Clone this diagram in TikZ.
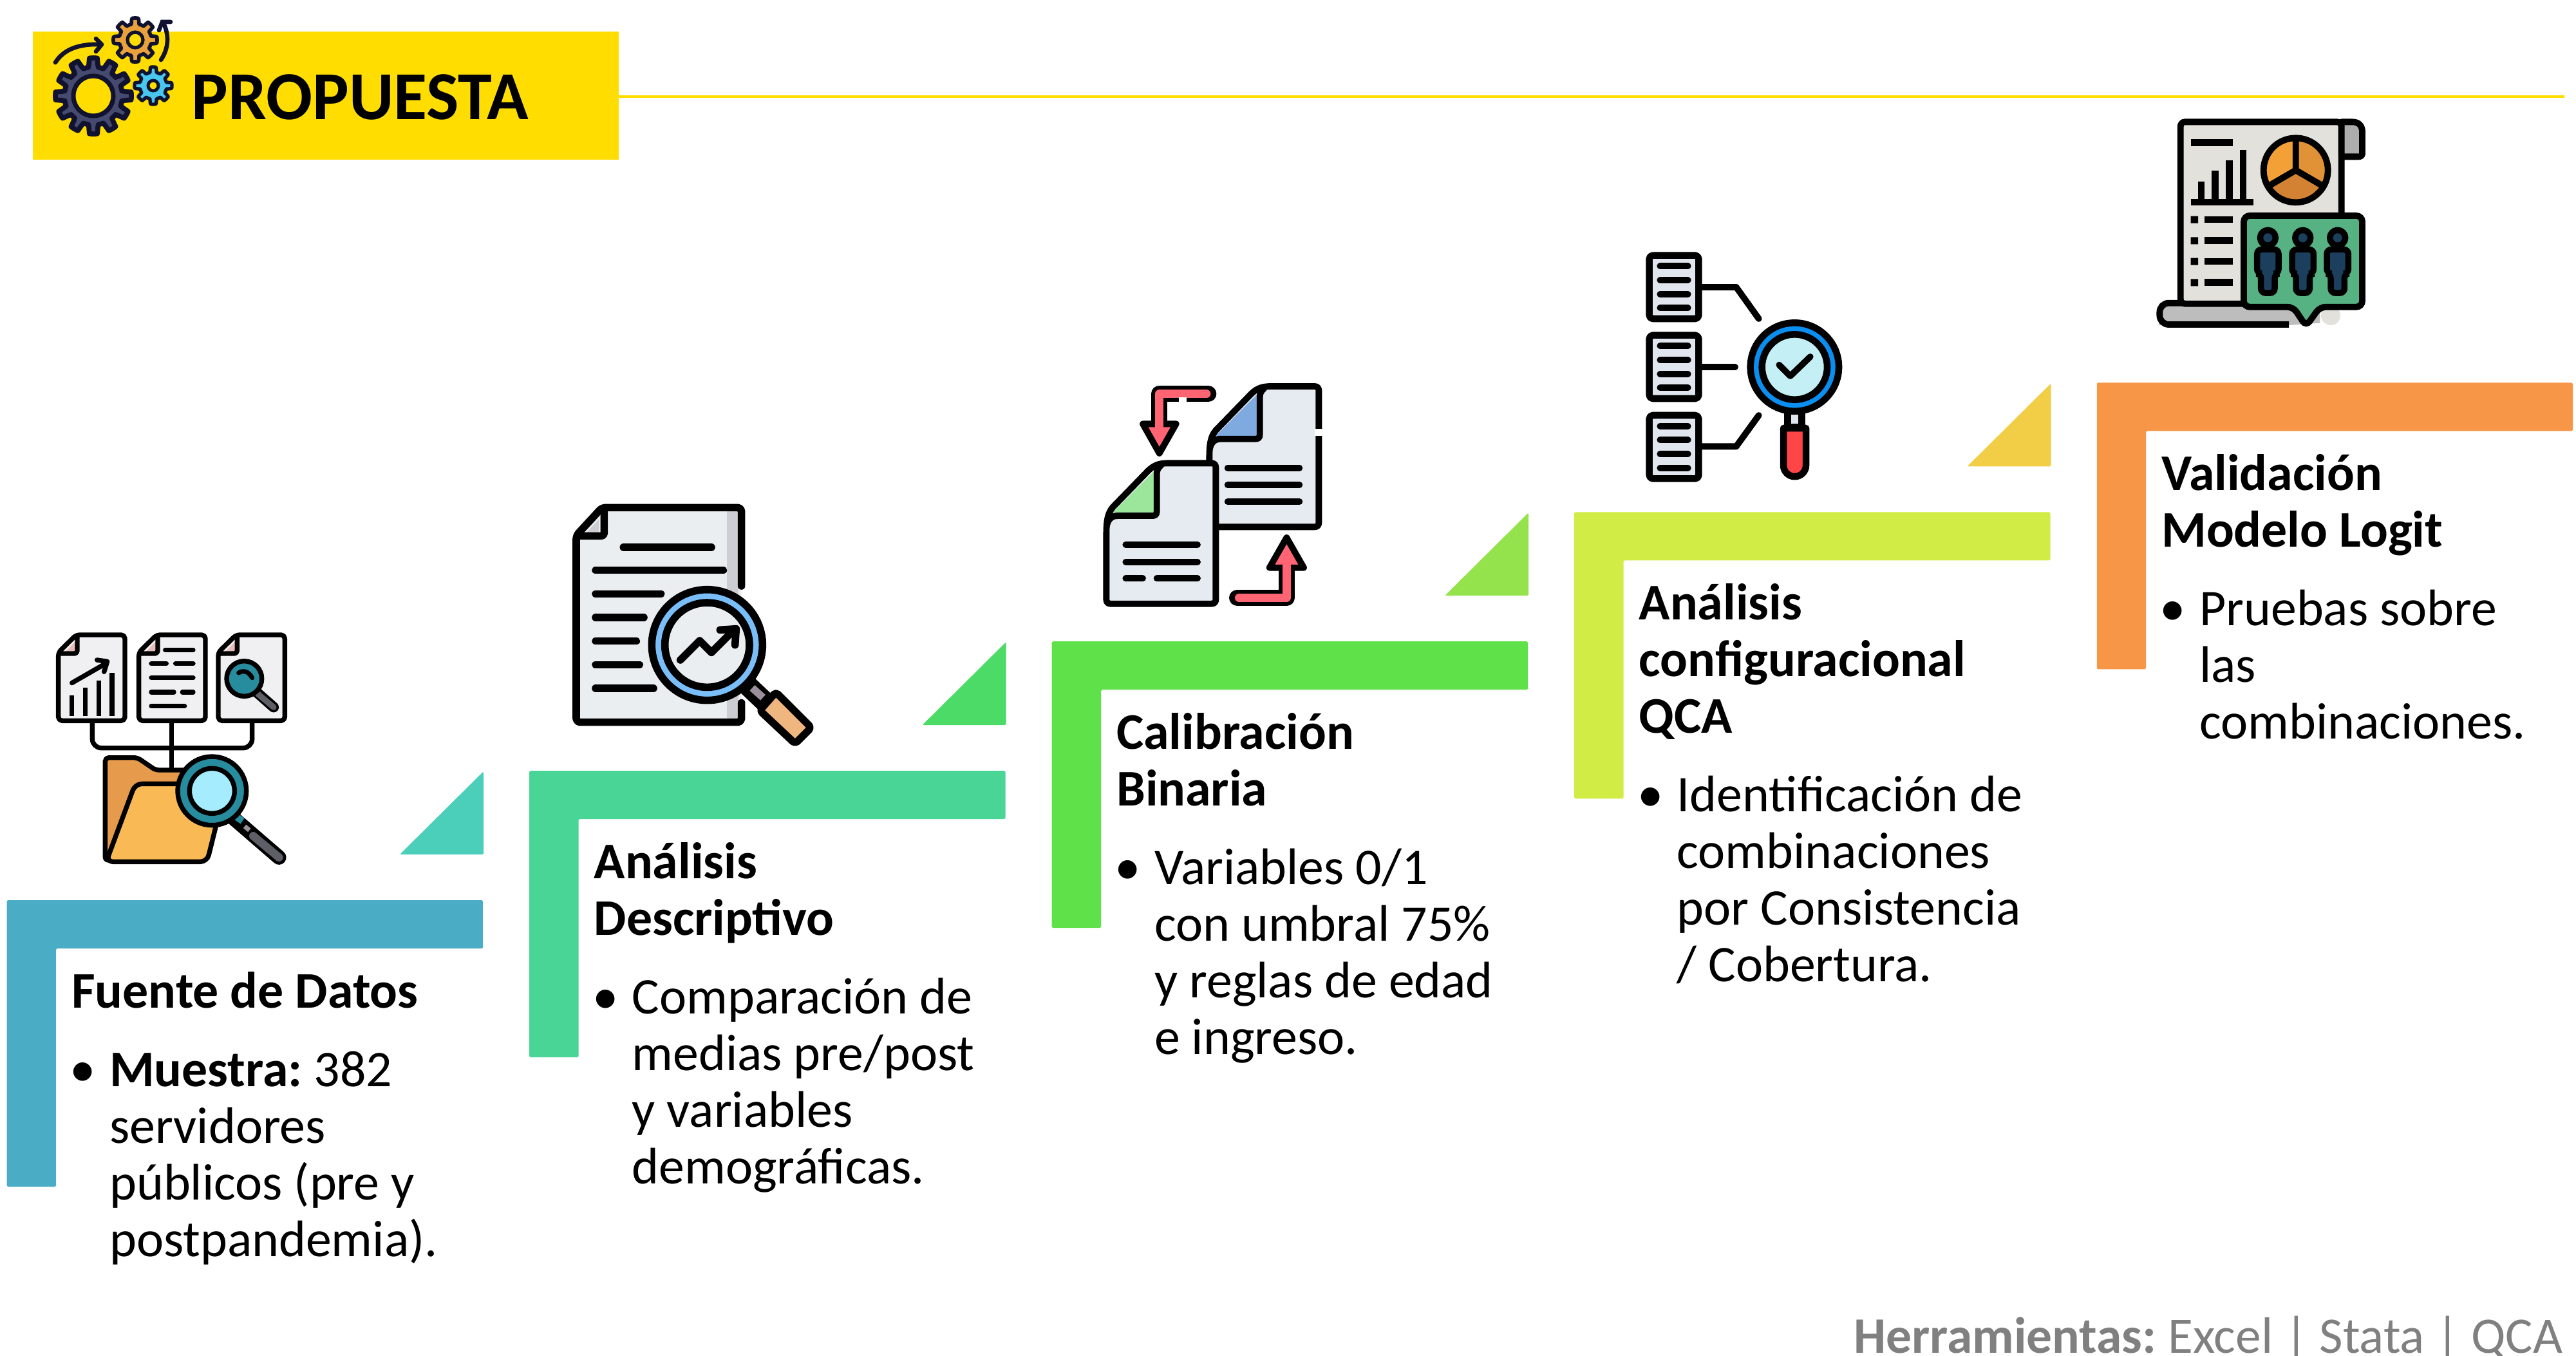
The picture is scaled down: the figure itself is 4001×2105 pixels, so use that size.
\documentclass[tikz,border=0pt]{standalone}
\usepackage{fontspec}
\setmainfont{Carlito}
\frenchspacing
\definecolor{headyellow}{HTML}{FFDD00}
\definecolor{gearink}{HTML}{11122F}
\definecolor{gearC}{HTML}{464A6E}
\definecolor{gearO}{HTML}{E9A23B}
\definecolor{gearB}{HTML}{48C6EE}
\definecolor{brA}{HTML}{4BACC6}
\definecolor{brB}{HTML}{48D596}
\definecolor{brC}{HTML}{5FE14A}
\definecolor{brD}{HTML}{D2EC46}
\definecolor{brE}{HTML}{F79646}
\definecolor{trA}{HTML}{4BCFBA}
\definecolor{trB}{HTML}{4BDB66}
\definecolor{trC}{HTML}{95E34C}
\definecolor{trD}{HTML}{F2CE47}
\definecolor{sheetfill}{HTML}{E6EBF1}
\definecolor{tealm}{HTML}{268C9E}
\definecolor{hgray}{HTML}{5E5E66}
\definecolor{pinkfold}{HTML}{E8BDB8}
\definecolor{paperA}{HTML}{F0F0F3}
\definecolor{folderB}{HTML}{E59B4B}
\definecolor{folderF}{HTML}{F9BA55}
\definecolor{paperB}{HTML}{EBEEF1}
\definecolor{shadeB}{HTML}{CDCED3}
\definecolor{arrowred}{HTML}{FF6473}
\definecolor{navyp}{HTML}{1C3F5E}
\definecolor{paperC}{HTML}{E3E1DC}
\definecolor{bubbleg}{HTML}{57B283}
\definecolor{glassA}{HTML}{A6ECFF}
\definecolor{neckg}{HTML}{9A8F9B}
\definecolor{handleO}{HTML}{F0B67F}
\definecolor{blueR}{HTML}{79BEF9}
\definecolor{foldblue}{HTML}{7FAAE0}
\definecolor{foldgreen}{HTML}{9CE69C}
\definecolor{handleR}{HTML}{FF4545}
\definecolor{blueK}{HTML}{0A8EF0}
\definecolor{glassK}{HTML}{C4EFF4}
\definecolor{tabfill}{HTML}{ADADAD}
\definecolor{baseg}{HTML}{BDBDBD}
\definecolor{pieA}{HTML}{F3A136}
\definecolor{pieB}{HTML}{E29236}
\definecolor{pieC}{HTML}{D38233}
\definecolor{listfill}{HTML}{E1E5EE}
\tikzset{
  x=0.01cm,y=-0.01cm,
  ttl/.style={anchor=base west,inner sep=0pt,text width=8.5cm,align=left,font=\fontsize{22.7}{25.04}\selectfont\bfseries,execute at begin node={\spaceskip=5.13pt\xspaceskip=5.13pt\relax}},
  bodytxt/.style={anchor=base west,inner sep=0pt,text width=8.5cm,align=left,font=\fontsize{22.7}{25.04}\selectfont,execute at begin node={\spaceskip=5.13pt\xspaceskip=5.13pt\relax}},
  bul/.style={anchor=base west,inner sep=0pt,font=\fontsize{23}{25.04}\selectfont},
  icon/.style={scale=0.33333,line cap=round,line join=round},
}
\newcommand{\gearshape}[7]{%
  \draw[gearink,line width=#7,fill=#6,line join=round]
    plot[domain=0:360,samples=181,variable=\t]
    ({#1+(#4+(#3-#4)*max(0,min(1,1.6*cos(#5*\t)+0.5)))*cos(\t-90)},
     {#2+(#4+(#3-#4)*max(0,min(1,1.6*cos(#5*\t)+0.5)))*sin(\t-90)}) -- cycle;
}
\newcommand{\bendsheet}[1]{%
  \fill[sheetfill] (595,745) -- (595,430) .. controls (595,360) and (600,325) .. (625,295) -- (790,125)
    .. controls (820,95) and (850,90) .. (885,90) -- (1085,90) .. controls (1098,90) and (1105,97) .. (1105,110)
    -- (1105,725) .. controls (1105,738) and (1098,745) .. (1085,745) -- cycle;
  \fill[#1] (622,322) -- (830,115) -- (830,322) -- cycle;
  \draw[line width=2.8pt] (595,725) -- (595,430) .. controls (595,360) and (600,325) .. (625,295) -- (790,125)
    .. controls (820,95) and (850,90) .. (885,90) -- (1085,90) .. controls (1098,90) and (1105,97) .. (1105,110)
    -- (1105,725) .. controls (1105,738) and (1098,745) .. (1085,745) -- (615,745) .. controls (602,745) and (595,738) .. (595,725);
  \draw[line width=2.8pt] (850,100) .. controls (835,112) and (830,125) .. (830,140) -- (830,315)
    .. controls (830,330) and (822,335) .. (810,335) -- (650,335) .. controls (625,335) and (605,345) .. (597,380);
}
\newcommand{\smalldoc}{%
  \draw[line width=2.1pt,fill=paperA,rounded corners=1.6pt] (122,190) -- (205,108) -- (432,108) -- (432,508) -- (122,508) -- cycle;
  \fill[pinkfold] (200,140) -- (200,185) -- (156,185) -- cycle;
  \draw[line width=2.1pt,rounded corners=1.2pt] (210,112) -- (210,195) -- (125,195);
}
\newcommand{\listdoc}[1]{%
  \draw[line width=3pt,fill=listfill,rounded corners=1.5pt] (125,#1) rectangle (355,{#1+295});
  \foreach \dd in {50,115,180,245}{\draw[line width=2.8pt] (175,{#1+\dd}) -- (305,{#1+\dd});}
}
\newcommand{\person}[1]{%
  \begin{scope}[shift={(#1,0)}]
    \draw[line width=2.7pt,fill=navyp] (0,628) circle[radius=36];
    \draw[line width=2.7pt,fill=navyp,rounded corners=2pt,line join=miter] (-50,795) -- (-50,682) -- (50,682) -- (50,795) -- (32,795) -- (32,885) -- (-32,885) -- (-32,795) -- cycle;
  \end{scope}
}
\begin{document}
\begin{tikzpicture}
\useasboundingbox (0,0) rectangle (4001,2105);
\fill[white] (0,0) rectangle (4001,2105);
% header
\fill[headyellow] (51,48.7) rectangle (961,248);
\draw[headyellow,line width=1.3pt] (961,150) -- (3983,150);
\node[anchor=base west,inner sep=0pt,font=\fontsize{30.3}{31}\selectfont\bfseries] (headtitle) at (297,185) {PROPUESTA};
\gearshape{145}{149}{59}{45}{12}{gearC}{2.2pt}
\draw[gearink,line width=2pt,fill=headyellow] (145,149) circle[radius=31];
\gearshape{210}{62}{34}{25}{8}{gearO}{1.6pt}
\draw[gearink,line width=1.5pt,fill=headyellow] (210,62) circle[radius=12];
\gearshape{238}{133}{29}{21}{8}{gearB}{1.5pt}
\draw[gearink,line width=1.4pt,fill=headyellow] (238,133) circle[radius=8];
\draw[gearink,line width=1.9pt,line cap=round] (86,97) .. controls (100,75) and (125,68) .. (156,69);
\draw[gearink,line width=1.9pt,line cap=round,line join=round] (149,60) -- (158,69) -- (149,80);
\draw[gearink,line width=1.9pt,line cap=round] (250,93) .. controls (262,75) and (263,55) .. (254,36);
\draw[gearink,line width=1.9pt,line cap=round,line join=miter] (247,47) -- (252,34) -- (265,34);
% brackets and triangles
\foreach \k/\col in {0/brA,1/brB,2/brC,3/brD,4/brE}{
  \fill[\col,rounded corners=0.5pt] ({10.7+811.5*\k},{1398-200.9*\k}) -- ({750+811.5*\k},{1398-200.9*\k}) -- ({750+811.5*\k},{1473-200.9*\k}) -- ({87+811.5*\k},{1473-200.9*\k}) -- ({87+811.5*\k},{1843-200.9*\k}) -- ({10.7+811.5*\k},{1843-200.9*\k}) -- cycle;
}
\foreach \k/\col in {0/trA,1/trB,2/trC,3/trD}{
  \fill[\col,rounded corners=0.5pt] ({621+811.5*\k},{1327-200.9*\k}) -- ({751+811.5*\k},{1198-200.9*\k}) -- ({751+811.5*\k},{1327-200.9*\k}) -- cycle;
}
% icon 1
\begin{scope}[shift={(50,950)},icon]
  \smalldoc
  \begin{scope}[shift={(375,0)}]\smalldoc\end{scope}
  \begin{scope}[shift={(745,0)}]\smalldoc\end{scope}
  \draw[line width=2.1pt,line cap=butt] (185,390) -- (185,485) (247,355) -- (247,485) (310,320) -- (310,485) (372,285) -- (372,485);
  \draw[line width=2.1pt] (185,332) -- (345,240) (302,225) -- (350,232) -- (335,280);
  \draw[line width=2.1pt] (620,178) -- (750,178) (555,242) -- (625,242) (668,242) -- (750,242) (555,308) -- (750,308) (555,375) -- (660,375) (700,375) -- (750,375) (555,440) -- (710,440);
  \draw[line width=4.6pt] (1040,370) -- (1125,445);
  \draw[line width=2.6pt,hgray] (1050,382) -- (1125,445);
  \draw[line width=2.1pt,fill=tealm] (988,312) circle[radius=82];
  \draw[line width=2pt] (962,285) .. controls (985,270) and (1010,280) .. (1025,308);
  \draw[line width=2.1pt,rounded corners=4pt] (280,515) -- (280,635) -- (1025,635) -- (1025,515);
  \draw[line width=2.1pt,line cap=butt] (650,515) -- (650,740);
  \draw[line width=2.1pt,fill=folderB,rounded corners=1.6pt] (340,1160) -- (340,680) -- (490,680) -- (575,738) -- (760,738) -- (760,1100) -- cycle;
  \draw[line width=2.1pt,fill=folderF,rounded corners=3pt] (345,1165) -- (480,802) -- (905,802) -- (815,1165) -- cycle;
  \draw[line width=6.4pt,line cap=round] (930,955) -- (1150,1145);
  \draw[line width=3.6pt,hgray,line cap=round] (1030,1045) -- (1150,1145);
  \draw[line width=2pt,neckg,line cap=butt] (990,1000) -- (1012,1018);
  \draw[line width=3pt,tealm,line cap=butt] (950,955) -- (980,975);
  \draw[line width=2.1pt,fill=tealm] (838,835) circle[radius=160];
  \draw[line width=2.1pt,fill=glassA] (838,835) circle[radius=105];
\end{scope}
% icon 2
\begin{scope}[shift={(860,760)},icon]
  \fill[paperB] (105,215) -- (225,85) -- (875,85) -- (875,1085) -- (105,1085) -- cycle;
  \fill[shadeB] (808,100) rectangle (860,1070);
  \draw[line width=3.3pt,rounded corners=1.6pt] (875,450) -- (875,85) -- (225,85) -- (105,215) -- (105,1085) -- (875,1085) -- (875,995);
  \fill[shadeB] (210,140) -- (210,205) -- (150,205) -- cycle;
  \draw[line width=3.3pt,rounded corners=1.2pt] (235,100) -- (235,217) -- (115,217);
  \draw[line width=3.3pt] (325,270) -- (735,270) (195,377) -- (790,377) (195,487) -- (500,487) (195,597) -- (420,597) (195,707) -- (385,707) (195,817) -- (400,817) (195,927) -- (465,927);
  \draw[line width=9pt,line cap=butt] (905,915) -- (1000,1005);
  \draw[line width=3.3pt,color=neckg,line cap=butt] (925,925) -- (975,970);
  \draw[line width=3.3pt,fill=handleO,rounded corners=1.4pt] (1035,945) -- (1200,1110) -- (1125,1185) -- (960,1030) -- cycle;
  \draw[line width=3.3pt,fill=blueR] (715,725) circle[radius=258];
  \draw[line width=3.3pt,fill=paperB] (715,725) circle[radius=197];
  \draw[line width=3.3pt] (590,795) -- (680,705) -- (735,760) -- (845,650) (775,655) -- (850,650) -- (845,725);
\end{scope}
% icon 3
\begin{scope}[shift={(1680,570)},icon]
  \bendsheet{foldblue}
  \draw[white,line width=3.4pt,line cap=butt] (1105,288) -- (1105,322);
  \draw[line width=2.8pt] (680,470) -- (1015,470) (680,550) -- (1015,550) (680,628) -- (1015,628);
  \begin{scope}[shift={(-480,358)}]\bendsheet{foldgreen}\end{scope}
  \draw[line width=2.8pt] (205,828) -- (540,828) (205,908) -- (540,908) (205,985) -- (285,985) (350,985) -- (540,985);
  \draw[line width=7.2pt,line join=round] (590,125) -- (362,125) -- (362,280);
  \draw[line width=2.8pt,fill=arrowred] (285,265) -- (440,265) -- (362,402) -- cycle;
  \draw[line width=3.6pt,arrowred,line join=round] (582,125) -- (362,125) -- (362,285);
  \draw[white,line width=2pt,line cap=butt] (452,152) -- (490,152);
  \draw[line width=7.2pt,line join=round] (725,1075) -- (955,1075) -- (955,930);
  \draw[line width=2.8pt,fill=arrowred] (875,935) -- (1035,935) -- (955,795) -- cycle;
  \draw[line width=3.6pt,arrowred,line join=round] (733,1075) -- (955,1075) -- (955,925);
\end{scope}
% icon 4
\begin{scope}[shift={(2520,370)},icon]
  \listdoc{80}
  \listdoc{452}
  \listdoc{825}
  \draw[line width=2.8pt] (370,228) -- (530,228) -- (635,375) (370,600) -- (525,600) (370,970) -- (530,970) -- (635,825);
  \draw[line width=3pt,fill=listfill] (770,800) rectangle (835,880);
  \draw[line width=3pt,fill=handleR] (750,885) -- (855,885) -- (855,1058) arc[start angle=0,end angle=180,x radius=52.5,y radius=52.5] -- cycle;
  \draw[line width=3pt,fill=blueK] (802,600) circle[radius=206];
  \draw[line width=3pt,fill=glassK] (802,600) circle[radius=152];
  \draw[line width=2.8pt] (730,590) -- (782,642) -- (875,552);
\end{scope}
% icon 5
\begin{scope}[shift={(3320,160)},icon]
  \fill[baseg] (100,935) -- (100,1035) -- (705,1035) -- (850,1025) -- (850,950) -- cycle;
  \fill[paperC] (900,990) circle[radius=45];
  \draw[line width=2.8pt,rounded corners=4pt,line cap=butt] (705,1032) -- (103,1032) -- (103,932) -- (510,932);
  \draw[line width=2.8pt,fill=paperC,rounded corners=2pt,line join=miter] (200,935) -- (200,88) -- (950,88) -- (950,935) -- cycle;
  \draw[line width=2.8pt,fill=tabfill,line join=round] (950,88) -- (1000,88) .. controls (1030,88) and (1047,105) .. (1047,135) -- (1047,235) .. controls (1047,245) and (1040,250) .. (1030,250) -- (950,250) -- cycle;
  \begin{scope}[line cap=butt]
    \draw[line width=3pt] (248,185) -- (443,185);
    \draw[line width=3pt] (297,365) -- (297,460) (362,315) -- (362,460) (427,268) -- (427,460) (492,218) -- (492,460) (248,462) -- (540,462);
    \fill (248,527) rectangle (282,560) (248,625) rectangle (282,658) (248,722) rectangle (282,755) (248,820) rectangle (282,853);
    \draw[line width=3pt] (313,543) -- (443,543) (313,640) -- (443,640) (313,738) -- (443,738) (313,835) -- (443,835);
  \end{scope}
  \fill[pieA] (737,313) circle[radius=150];
  \fill[pieB] (737,313) -- (737,163) arc[start angle=-90,end angle=30,radius=150] -- cycle;
  \fill[pieC] (737,313) -- (866.9,388) arc[start angle=30,end angle=150,radius=150] -- cycle;
  \draw[line width=2.8pt] (737,313) circle[radius=150];
  \draw[line width=2.8pt,line cap=butt] (737,165) -- (737,313) -- (866,388) (737,313) -- (608,388);
  \draw[line width=2.8pt,fill=bubbleg,rounded corners=2.6pt,line join=miter] (495,525) -- (1047,525) -- (1047,950) -- (850,950) -- (785,1040) -- (725,950) -- (495,950) -- cycle;
  \person{607}
  \person{770}
  \person{932}
\end{scope}
% texts, block 1
\node[ttl] (t1) at (110.5,1565.5) {Fuente de Datos};
\node[bul] (b1) at (108,1687.5) {•};
\node[bodytxt] (c1) at (169.5,1687.5) {\textbf{Muestra:} 382\\servidores\\públicos (pre y\\postpandemia).};
% block 2
\node[ttl] (t2) at (922,1364.5) {Análisis\\Descriptivo};
\node[bul] (b2) at (919.5,1574.5) {•};
\node[bodytxt] (c2) at (981,1574.5) {Comparación de\\medias pre/post\\y variables\\demográficas.};
% block 3
\node[ttl] (t3) at (1733.5,1163.5) {Calibración\\Binaria};
\node[bul] (b3) at (1731,1373.5) {•};
\node[bodytxt] (c3) at (1792.5,1373.5) {Variables 0/1\\con umbral 75\%\\y reglas de edad\\e ingreso.};
% block 4
\node[ttl] (t4) at (2545,962.5) {Análisis\\configuracional\\QCA};
\node[bul] (b4) at (2542.5,1260.5) {•};
\node[bodytxt] (c4) at (2604,1260.5) {Identificación de\\combinaciones\\por Consistencia\\/ Cobertura.};
% block 5
\node[ttl] (t5) at (3356.5,761.5) {Validación\\Modelo Logit};
\node[bul] (b5) at (3354,971.5) {•};
\node[bodytxt] (c5) at (3415.5,971.5) {Pruebas sobre\\las\\combinaciones.};
% footer
\node[anchor=base east,inner sep=0pt,text=gray,font=\fontsize{22.6}{26}\selectfont] (foot) at (3981,2101) {\textbf{Herramientas:} Excel | Stata | QCA};
\end{tikzpicture}
\end{document}
